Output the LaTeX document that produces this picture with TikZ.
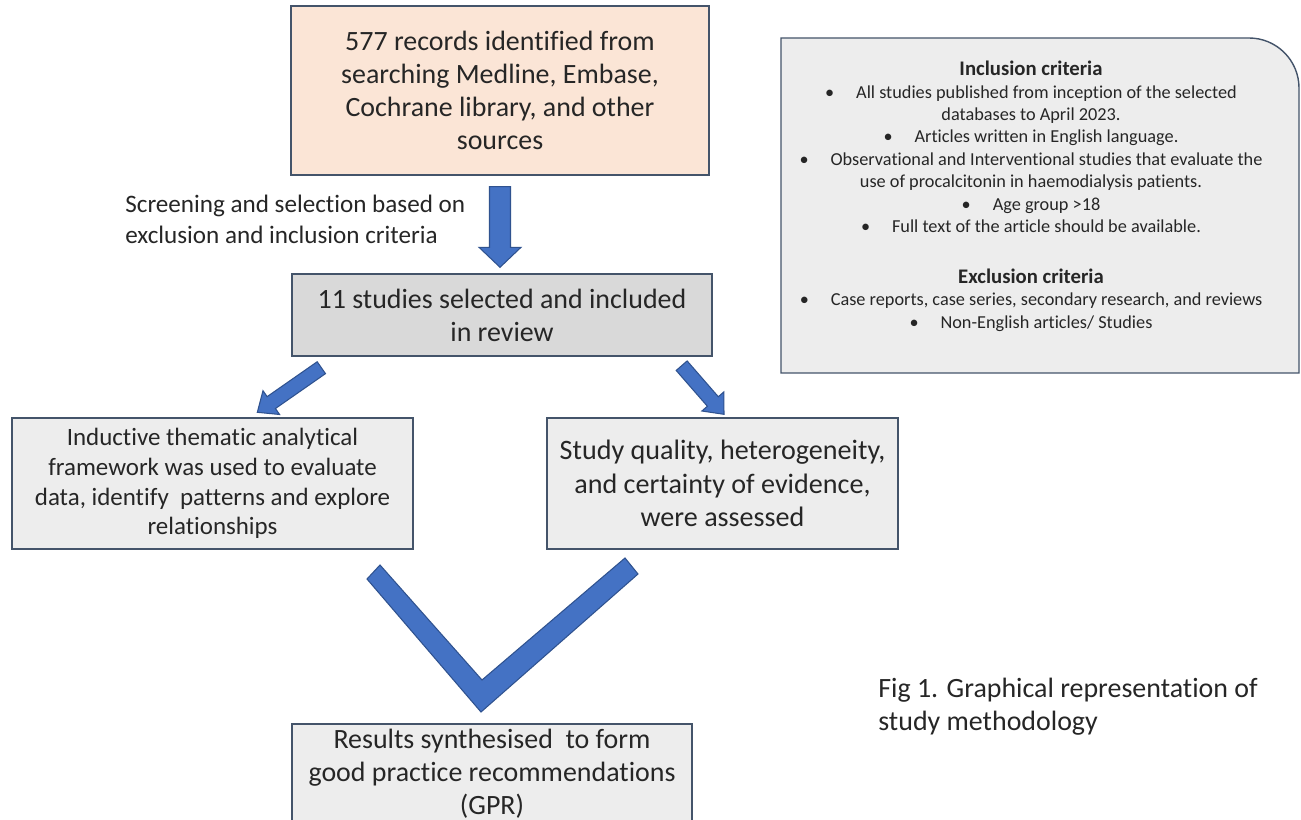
\documentclass[tikz,border=0pt]{standalone}
\usepackage{fontspec}
\setmainfont{Carlito}[Ligatures=NoCommon]
\usetikzlibrary{calc}
\definecolor{peach}{HTML}{FBE5D6}
\definecolor{midgrey}{HTML}{D9D9D9}
\definecolor{lightgrey}{HTML}{EDEDED}
\definecolor{edge}{HTML}{44546A}
\definecolor{arrfill}{HTML}{4472C4}
\definecolor{arredge}{HTML}{2F528F}
\tikzset{
  box/.style={draw=edge, line width=0.8pt, align=center, text=black!85, inner sep=2pt},
  srcbox/.style={box, fill=peach, font=\fontsize{15.9}{18.7}\selectfont},
  selbox/.style={box, fill=midgrey, font=\fontsize{15.9}{18.7}\selectfont},
  stepbox/.style={box, fill=lightgrey},
  lbl/.style={align=left, inner sep=0pt, text=black!85},
  crit/.style={align=center, inner sep=0pt, text=black!85, font=\fontsize{10.4}{12.75}\selectfont},
  blockarr/.style={fill=arrfill, draw=arredge, line width=0.6pt, line join=miter},
}
% #1 start, #2 tip, #3 shaft half width, #4 head half width, #5 head length
\newcommand{\blockarrow}[5]{%
  \coordinate (hb) at ($(#2)!#5!(#1)$);
  \filldraw[blockarr] ($(#1)!#3!90:(#2)$) -- ($(hb)!#3!90:(#2)$) -- ($(hb)!#4!90:(#2)$)
    -- (#2) -- ($(hb)!#4!-90:(#2)$) -- ($(hb)!#3!-90:(#2)$) -- ($(#1)!#3!-90:(#2)$) -- cycle;}

\begin{document}
\begin{tikzpicture}[x=0.02cm, y=-0.02cm]
  \useasboundingbox (0,0) rectangle (1301,820);
  \fill[white] (0,0) rectangle (1301,820);

  % flow boxes
  \node[srcbox, minimum width=8.36cm, minimum height=3.38cm] (records) at (500,90.5)
    {577 records identified from\\searching Medline, Embase,\\Cochrane library, and other\\sources};
  \node[selbox, minimum width=8.4cm, minimum height=1.64cm] (selected) at (502,315)
    {11 studies selected and included\\in review};
  \node[stepbox, minimum width=8.02cm, minimum height=2.62cm, font=\fontsize{14.2}{17}\selectfont] (thematic) at (212.5,483.5)
    {Inductive thematic analytical\\framework was used to evaluate\\data, identify\ \ patterns and explore\\relationships};
  \node[stepbox, minimum width=7.02cm, minimum height=2.62cm, font=\fontsize{16}{19.2}\selectfont] (quality) at (722.5,483.5)
    {Study quality, heterogeneity,\\and certainty of evidence,\\were assessed};
  \node[stepbox, minimum width=8cm, minimum height=2cm, font=\fontsize{15.9}{18.7}\selectfont] (results) at (492,774)
    {Results synthesised\ \ to form\\good practice recommendations\\(GPR)};

  \node[lbl, anchor=west, font=\fontsize{14.3}{17.6}\selectfont] (screening) at (125,219.5)
    {Screening and selection based on\\exclusion and inclusion criteria};

  % criteria panel
  \filldraw[fill=lightgrey, draw=edge, line width=0.8pt] (781,373) -- (781,38) -- (1249,38)
    .. controls (1276.6,38) and (1299,60.4) .. (1299,88) -- (1299,373) -- cycle;
  \node[crit] (incl) at (1031,147)
    {\textbf{\fontsize{11.8}{12.75}\selectfont Inclusion criteria}\\
     \textbullet\hspace{1.2em}All studies published from inception of the selected\\
     databases to April 2023.\\
     \textbullet\hspace{1.2em}Articles written in English language.\\
     \textbullet\hspace{1.2em}Observational and Interventional studies that evaluate the\\
     use of procalcitonin in haemodialysis patients.\\
     \textbullet\hspace{1.2em}Age group >18\\
     \textbullet\hspace{1.2em}Full text of the article should be available.};
  \node[crit] (excl) at (1031,300)
    {\textbf{\fontsize{11.8}{12.75}\selectfont Exclusion criteria}\\
     \textbullet\hspace{1.2em}Case reports, case series, secondary research, and reviews\\
     \textbullet\hspace{1.2em}Non-English articles/ Studies};

  \node[lbl, anchor=west, font=\fontsize{15.9}{18.7}\selectfont] (caption) at (878,706.5)
    {Fig 1. Graphical representation of\\study methodology};

  % block arrows
  \coordinate (d1s) at ($(records.south)+(0,11)$);
  \coordinate (d1t) at ($(selected.north)+(-2,-6)$);
  \blockarrow{d1s}{d1t}{0.21cm}{0.42cm}{0.4cm}
  \coordinate (d2s) at ($(selected.south west)+(30,11)$);
  \coordinate (d2t) at ($(thematic.north west)+(246,-5)$);
  \blockarrow{d2s}{d2t}{0.145cm}{0.29cm}{0.34cm}
  \coordinate (d3s) at ($(selected.south east)+(-31,9)$);
  \coordinate (d3t) at ($(quality.north)+(1.5,-3)$);
  \blockarrow{d3s}{d3t}{0.145cm}{0.29cm}{0.34cm}

  % merging chevron
  \coordinate (vtip) at (481,712);
  \filldraw[blockarr] (367,579) -- (vtip) -- (638,574) -- (625,558) -- (482,680) -- (380,565) -- cycle;
\end{tikzpicture}
\end{document}
